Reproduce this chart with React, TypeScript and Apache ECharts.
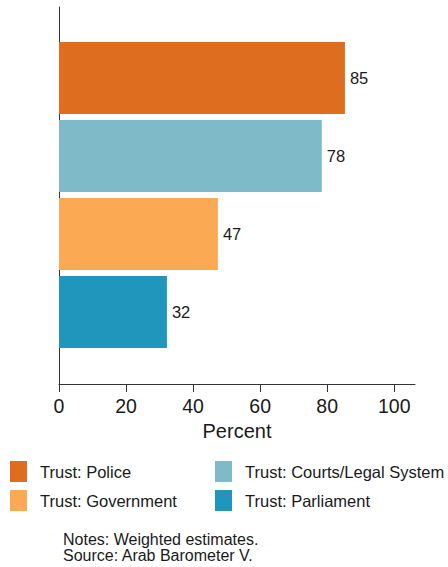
import React, { useEffect, useRef } from "react";
import * as echarts from "echarts";

const categories = ["Trust: Police", "Trust: Courts/Legal System", "Trust: Government", "Trust: Parliament"];
const values = [85.3, 78.4, 47.4, 32.2];
const colors = ["#DF6D20", "#7FBAC8", "#FBA952", "#2196BD"];
const xTicks = [0, 20, 40, 60, 80, 100];
const notes = ["Notes: Weighted estimates.", "Source: Arab Barometer V."];

const FONT = "'Liberation Sans', Arial, Helvetica, sans-serif";
const TXT = "#1a1a1a";
const AX = "#333333";
const XMAX = 106.2;

export default function App() {
  const ref = useRef<HTMLDivElement>(null);
  useEffect(() => {
    if (!ref.current) return;
    const chart = echarts.init(ref.current, null, { renderer: "svg" });
    const series = categories.map((c, i) => ({
      name: c,
      type: "bar",
      xAxisIndex: 1,
      yAxisIndex: 1,
      barWidth: 72,
      barGap: "-100%",
      itemStyle: { color: colors[i] },
      data: categories.map((_, j) => (j === i ? values[i] : "-")),
      label: {
        show: true,
        position: "right",
        distance: 5,
        fontFamily: FONT,
        fontSize: 16.5,
        color: TXT,
        formatter: (p: any) => String(Math.round(p.value)),
      },
    }));
    const legendCommon = {
      orient: "vertical",
      top: 461,
      padding: 0,
      itemWidth: 17,
      itemHeight: 21,
      itemGap: 8,
      icon: "rect",
      selectedMode: false,
      textStyle: { fontFamily: FONT, fontSize: 16.5, color: TXT, padding: [0, 0, 0, 8] },
    };
    chart.setOption({
      animation: false,
      textStyle: { fontFamily: FONT },
      grid: [
        { left: 59, top: 7, width: 356, height: 377, containLabel: false },
        { left: 59, top: 39, width: 356, height: 312, containLabel: false },
      ],
      xAxis: [
        {
          type: "value",
          gridIndex: 0,
          min: 0,
          max: XMAX,
          interval: 20,
          splitLine: { show: false },
          axisLine: { show: true, lineStyle: { color: AX, width: 1 } },
          axisTick: { show: true, length: 8, lineStyle: { color: AX }, customValues: xTicks },
          axisLabel: { show: true, margin: 12, fontSize: 19.5, color: TXT, fontFamily: FONT, customValues: xTicks },
          name: "Percent",
          nameLocation: "middle",
          nameGap: 32,
          nameTextStyle: { fontSize: 20, color: TXT, fontFamily: FONT },
        },
        {
          type: "value",
          gridIndex: 1,
          min: 0,
          max: XMAX,
          show: false,
        },
      ],
      yAxis: [
        {
          type: "value",
          gridIndex: 0,
          min: 0,
          max: 1,
          splitLine: { show: false },
          axisLine: { show: true, lineStyle: { color: AX, width: 1 } },
          axisTick: { show: false },
          axisLabel: { show: false },
        },
        {
          type: "category",
          gridIndex: 1,
          data: categories,
          inverse: true,
          show: false,
        },
      ],
      legend: [
        { ...legendCommon, left: 10, data: [categories[0], categories[2]] },
        { ...legendCommon, left: 215, data: [categories[1], categories[3]] },
      ],
      graphic: [
        {
          type: "text",
          left: 63,
          top: 531,
          style: {
            text: notes.join("\n"),
            fontFamily: FONT,
            fontSize: 16,
            lineHeight: 16,
            fill: TXT,
          },
        },
      ],
      series,
    });
    return () => chart.dispose();
  }, []);
  return <div ref={ref} style={{ position: "absolute", left: 0, top: 0, width: 448, height: 567 }} />;
}
